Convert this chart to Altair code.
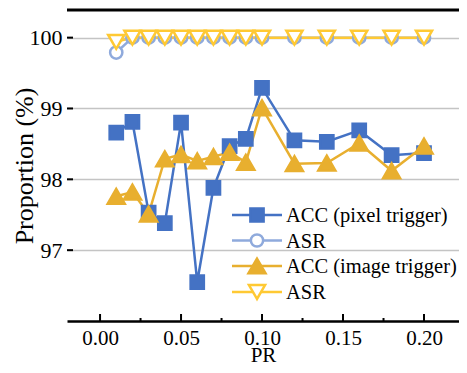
import altair as alt
import pandas as pd

# ---------------- data ----------------
pr = [0.01, 0.02, 0.03, 0.04, 0.05, 0.06, 0.07, 0.08, 0.09, 0.10, 0.12, 0.14, 0.16, 0.18, 0.20]
acc_pixel = [98.66, 98.81, 97.53, 97.38, 98.80, 96.55, 97.88, 98.47, 98.57, 99.29, 98.55, 98.53, 98.69, 98.34, 98.37]
asr_pixel = [99.79, 100, 100, 100, 100, 100, 100, 100, 100, 100, 100, 100, 100, 100, 100]
acc_image = [97.76, 97.82, 97.51, 98.29, 98.35, 98.26, 98.32, 98.38, 98.24, 99.01, 98.22, 98.23, 98.51, 98.12, 98.47]
asr_image = [99.94, 100, 100, 100, 100, 100, 100, 100, 100, 100, 100, 100, 100, 100, 100]

series_keys = ["s1", "s2", "s3", "s4"]
series_labels = ["ACC (pixel trigger)", "ASR", "ACC (image trigger)", "ASR"]
series_values = [acc_pixel, asr_pixel, acc_image, asr_image]

x_major = [0.0, 0.05, 0.10, 0.15, 0.20]
x_minor = [0.025, 0.075, 0.125, 0.175]
y_ticks = [97, 98, 99, 100]

# ---------------- styling ----------------
colors = ["#4472C4", "#8FAADC", "#E8AF2F", "#FFC933"]
fills = ["#4472C4", "#FFFFFF", "#E8AF2F", "#FFFFFF"]
shapes = ["square", "circle", "triangle-up", "triangle-down"]
sizes = [175, 150, 290, 260]
FONT = "Liberation Serif"
W, H = 392, 311

# legend layout (pixels inside the plot area)
LEG_X0, LEG_X1, LEG_TX = 165, 215, 219
LEG_Y = [205, 230.5, 256, 282]

rows = []
for k, vals in zip(series_keys, series_values):
    for x, v in zip(pr, vals):
        rows.append({"PR": x, "value": v, "series": k})
df = pd.DataFrame(rows)

xscale = alt.Scale(domain=[-0.0204, 0.2216], nice=False, zero=False)
yscale = alt.Scale(domain=[96.0, 100.39], nice=False, zero=False)

base = alt.Chart(df)

lines = base.mark_line(strokeWidth=2.5).encode(
    x=alt.X("PR:Q", scale=xscale, title="PR",
            axis=alt.Axis(values=x_major, format=".2f", grid=False, tickSize=0,
                          domainColor="black", domainWidth=2.5,
                          labelFont=FONT, labelFontSize=21, labelColor="black",
                          labelPadding=6, titleFont=FONT, titleFontSize=21,
                          titleFontWeight="normal", titleColor="black",
                          titleBaseline="alphabetic", titleY=40)),
    y=alt.Y("value:Q", scale=yscale, title="Proportion (%)",
            axis=alt.Axis(values=y_ticks, format="d", domain=False, tickSize=0, grid=True,
                          gridColor="#C4C4C4", gridWidth=1.4,
                          labelFont=FONT, labelFontSize=22, labelColor="black",
                          labelPadding=5, titleFont=FONT, titleFontSize=26,
                          titleFontWeight="normal", titleColor="black", titleX=-30)),
    color=alt.Color("series:N", scale=alt.Scale(domain=series_keys, range=colors), legend=None),
    detail="series:N",
)

point_layers = []
for k, shp, col, fil, sz in zip(series_keys, shapes, colors, fills, sizes):
    point_layers.append(
        base.transform_filter(alt.datum.series == k).mark_point(
            shape=shp, strokeWidth=2.5, opacity=1, fillOpacity=1,
            stroke=col, fill=fil, size=sz
        ).encode(
            x=alt.X("PR:Q", scale=xscale),
            y=alt.Y("value:Q", scale=yscale),
        )
    )

# legend: line + marker + label for each series
one = alt.Chart(pd.DataFrame({"k": [0]}))
legend_layers = []
for lab, shp, col, fil, sz, ly in zip(series_labels, shapes, colors, fills, sizes, LEG_Y):
    legend_layers.append(one.mark_rule(color=col, strokeWidth=2.5).encode(
        x=alt.value(LEG_X0), x2=alt.value(LEG_X1), y=alt.value(ly)))
    legend_layers.append(one.mark_point(shape=shp, stroke=col, fill=fil, size=sz,
                                        strokeWidth=2.5, opacity=1, fillOpacity=1).encode(
        x=alt.value((LEG_X0 + LEG_X1) / 2), y=alt.value(ly)))
    legend_layers.append(one.mark_text(align="left", baseline="middle", font=FONT,
                                       fontSize=20.5, color="black").encode(
        x=alt.value(LEG_TX), y=alt.value(ly + 1), text=alt.value(lab)))

major_ticks = alt.Chart(pd.DataFrame({"t": x_major})).mark_rule(color="black", strokeWidth=2).encode(
    x=alt.X("t:Q", scale=xscale), y=alt.value(H - 7), y2=alt.value(H))
minor_ticks = alt.Chart(pd.DataFrame({"t": x_minor})).mark_rule(color="black", strokeWidth=2).encode(
    x=alt.X("t:Q", scale=xscale), y=alt.value(H - 3), y2=alt.value(H))
y_tick_marks = alt.Chart(pd.DataFrame({"t": y_ticks})).mark_rule(color="black", strokeWidth=2).encode(
    y=alt.Y("t:Q", scale=yscale), x=alt.value(0), x2=alt.value(6))
top_border = alt.Chart(pd.DataFrame({"t": [0]})).mark_rule(color="black", strokeWidth=3).encode(
    x=alt.value(0), x2=alt.value(W), y=alt.value(0))

chart = alt.layer(lines, *point_layers, *legend_layers, major_ticks, minor_ticks, y_tick_marks,
                  top_border).properties(
    width=W, height=H,
    autosize=alt.AutoSizeParams(type="none"),
    padding={"left": 59, "top": 2, "right": 0, "bottom": 44},
    background="white",
).configure(font=FONT).configure_view(stroke=None)

chart.save("out.html", embed_options={"renderer": "svg", "actions": False})
